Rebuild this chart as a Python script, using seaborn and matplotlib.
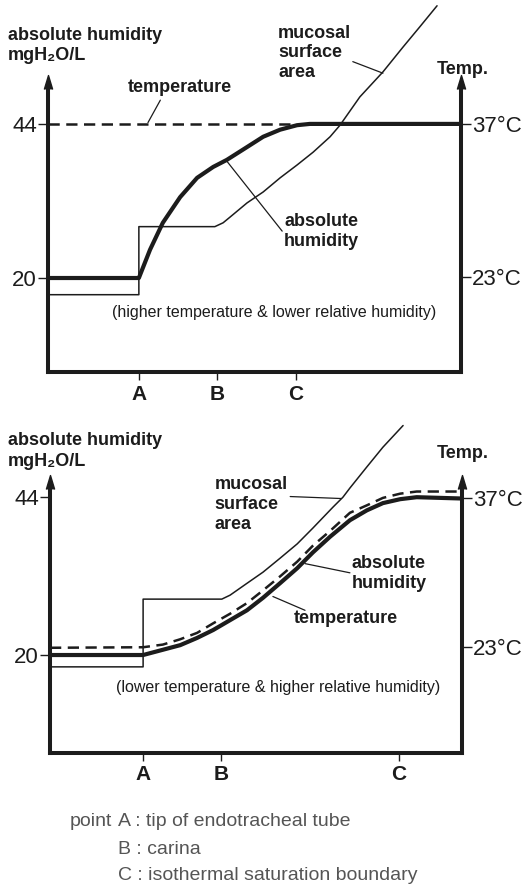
import matplotlib
matplotlib.use('agg')
import matplotlib.pyplot as plt
import seaborn as sns

# x runs from 0 (left axis) to 10 (right axis); humidity in mgH2O/L, temperature in deg C
# --- upper panel: higher temperature & lower relative humidity
top_ticks = [2.2, 4.1, 6.0]
top_hum_x = [0, 2.2, 2.47, 2.78, 3.2, 3.61, 4.0, 4.33, 4.82, 5.21, 5.62, 6.03, 6.34, 10]
top_hum_y = [20, 20, 24.4, 28.6, 32.6, 35.6, 37.3, 38.4, 40.4, 42.0, 43.1, 43.8, 44, 44]
top_temp_x = [0, 5.95]
top_temp_y = [37, 37]
top_muc_x = [0, 2.2, 2.2, 4.04, 4.24, 4.41, 4.82, 5.21, 5.62, 6.03, 6.42, 6.83, 7.07,
             7.55, 8.11, 8.6, 9.0, 9.42]
top_muc_y = [17.4, 17.4, 28.0, 28.0, 28.6, 29.5, 31.7, 33.4, 35.6, 37.6, 39.6, 42.0, 43.8,
             48.2, 52.1, 56.0, 59.1, 62.4]

# --- lower panel: lower temperature & higher relative humidity
bot_ticks = [2.26, 4.15, 8.47]
bot_hum_x = [0, 2.26, 2.74, 3.16, 3.57, 3.96, 4.37, 4.78, 5.17, 5.58, 6.0, 6.38, 6.8,
             7.28, 7.69, 8.08, 8.5, 8.9, 10]
bot_hum_y = [20, 20, 20.8, 21.5, 22.6, 23.8, 25.3, 26.8, 28.7, 30.9, 33.2, 35.6, 38.0,
             40.5, 42.0, 43.1, 43.7, 44.0, 43.8]
bot_temp_x = [0, 2.26, 2.74, 3.16, 3.57, 3.96, 4.37, 4.78, 5.17, 5.58, 6.0, 6.38, 6.8,
              7.28, 7.69, 8.08, 8.5, 8.9, 10]
bot_temp_y = [22.9, 22.95, 23.2, 23.7, 24.3, 25.2, 26.1, 27.1, 28.3, 29.6, 31.0, 32.5, 33.9,
              35.6, 36.3, 37.0, 37.4, 37.6, 37.6]
bot_muc_x = [0, 2.26, 2.26, 4.17, 4.37, 4.78, 5.17, 5.58, 6.0, 6.38, 6.87, 7.11, 7.28,
             7.69, 8.08, 8.57]
bot_muc_y = [18.2, 18.2, 28.5, 28.5, 29.1, 30.9, 32.6, 34.7, 36.9, 39.3, 42.5, 44.0, 45.4,
             48.6, 51.6, 54.9]

hum_ticks = [20, 44]
temp_ticks = [23, 37]
point_labels = ['A', 'B', 'C']
notes = ['A : tip of endotracheal tube', 'B : carina', 'C : isothermal saturation boundary']

sns.set_theme(style='white')
plt.rcParams['font.family'] = ['Liberation Sans', 'DejaVu Sans']
ink = '#1c1c1c'
arrow = [(-3, -5), (0, 5), (3, -5)]

W, H = 524, 889
fig = plt.figure(figsize=(W / 100, H / 100), dpi=100)


def panel(rect, hlim, tlim, tip, ticks, hx, hy, tx, ty, mx, my):
    ax = fig.add_axes(rect)
    axt = ax.twinx()
    sns.lineplot(x=mx, y=my, sort=False, estimator=None, ax=ax, color=ink, lw=1.1)
    sns.lineplot(x=hx, y=hy, sort=False, estimator=None, ax=ax, color=ink, lw=3.0)
    sns.lineplot(x=tx, y=ty, sort=False, estimator=None, ax=axt, color=ink, lw=1.8,
                 linestyle=(0, (4.5, 2.6)))
    ax.set_xlim(0, 10)
    ax.set_ylim(*hlim)
    axt.set_ylim(*tlim)
    for s in axt.spines.values():
        s.set_visible(False)
    ax.spines['top'].set_visible(False)
    for s in ['left', 'right', 'bottom']:
        ax.spines[s].set_linewidth(2.9)
        ax.spines[s].set_color(ink)
    ax.spines['left'].set_bounds(hlim[0], tip - 1.5)
    ax.spines['right'].set_bounds(hlim[0], tip - 1.5)
    for xx in (0, 10):
        ax.plot([xx], [tip - 1.0], marker=arrow, ms=10, color=ink, clip_on=False)
    ax.set_yticks(hum_ticks, [str(v) for v in hum_ticks])
    axt.set_yticks(temp_ticks, [f'{v}°C' for v in temp_ticks])
    ax.set_xticks(ticks, point_labels)
    ax.tick_params(axis='y', left=True, direction='out', length=7, width=1.0, pad=1,
                   colors=ink, labelsize=16)
    axt.tick_params(axis='y', right=True, direction='out', length=7, width=1.0, pad=1,
                    colors=ink, labelsize=16)
    ax.tick_params(axis='x', bottom=True, direction='out', length=6, width=1.0, pad=3,
                   colors=ink, labelsize=15)
    for lab in ax.get_xticklabels():
        lab.set_fontweight('bold')
    ax.set_xlabel('')
    ax.set_ylabel('')
    axt.set_ylabel('')
    return ax


lab_kw = dict(fontsize=13, fontweight='bold', color=ink, linespacing=1.2)
lead_kw = dict(color=ink, lw=0.9)
note_kw = dict(fontsize=11.5, color=ink, ha='center', va='center')

# upper panel
ax1 = panel([48 / W, 1 - 372 / H, 413 / W, 372 / H], (5.36, 63.3), (14.3, 48.3), 51.6,
            top_ticks, top_hum_x, top_hum_y, top_temp_x, top_temp_y, top_muc_x, top_muc_y)
ax1.text(1.94, 49.6, 'temperature', va='center', **lab_kw)
ax1.plot([2.42, 2.72], [44.2, 47.7], **lead_kw)
ax1.text(5.57, 55.1, 'mucosal\nsurface\narea', va='center', **lab_kw)
ax1.plot([7.38, 8.11], [53.7, 51.9], **lead_kw)
ax1.text(5.72, 27.2, 'absolute\nhumidity', va='center', **lab_kw)
ax1.plot([4.33, 5.67], [38.2, 27.3], **lead_kw)
ax1.text(5.47, 14.6, '(higher temperature & lower relative humidity)', **note_kw)

# lower panel
ax2 = panel([50 / W, 1 - 753 / H, 412 / W, (753 - 415) / H], (5.1, 56.5), (13.0, 44.8), 47.3,
            bot_ticks, bot_hum_x, bot_hum_y, bot_temp_x, bot_temp_y, bot_muc_x, bot_muc_y)
ax2.text(4.0, 42.9, 'mucosal\nsurface\narea', va='center', **lab_kw)
ax2.plot([5.83, 7.06], [44.1, 43.8], **lead_kw)
ax2.text(7.33, 32.4, 'absolute\nhumidity', va='center', **lab_kw)
ax2.plot([6.19, 7.28], [33.9, 32.5], **lead_kw)
ax2.text(5.92, 25.5, 'temperature', va='center', **lab_kw)
ax2.plot([5.41, 6.19], [28.9, 26.8], **lead_kw)
ax2.text(5.53, 15.1, '(lower temperature & higher relative humidity)', **note_kw)

# axis titles
for y0 in (35, 440):
    fig.text(8 / W, 1 - y0 / H, 'absolute humidity', va='center', **lab_kw)
    fig.text(8 / W, 1 - (y0 + 21) / H, 'mgH₂O/L', va='center', **lab_kw)
for y0 in (70, 453):
    fig.text(437 / W, 1 - y0 / H, 'Temp.', va='center', **lab_kw)

# footnote
fig.text(112 / W, 1 - 822 / H, 'point', ha='right', va='center', fontsize=14, color='#555555')
for i, t in enumerate(notes):
    fig.text(118 / W, 1 - (822 + 27 * i) / H, t, va='center', fontsize=14, color='#555555')

fig.savefig('out.png', dpi=100)
